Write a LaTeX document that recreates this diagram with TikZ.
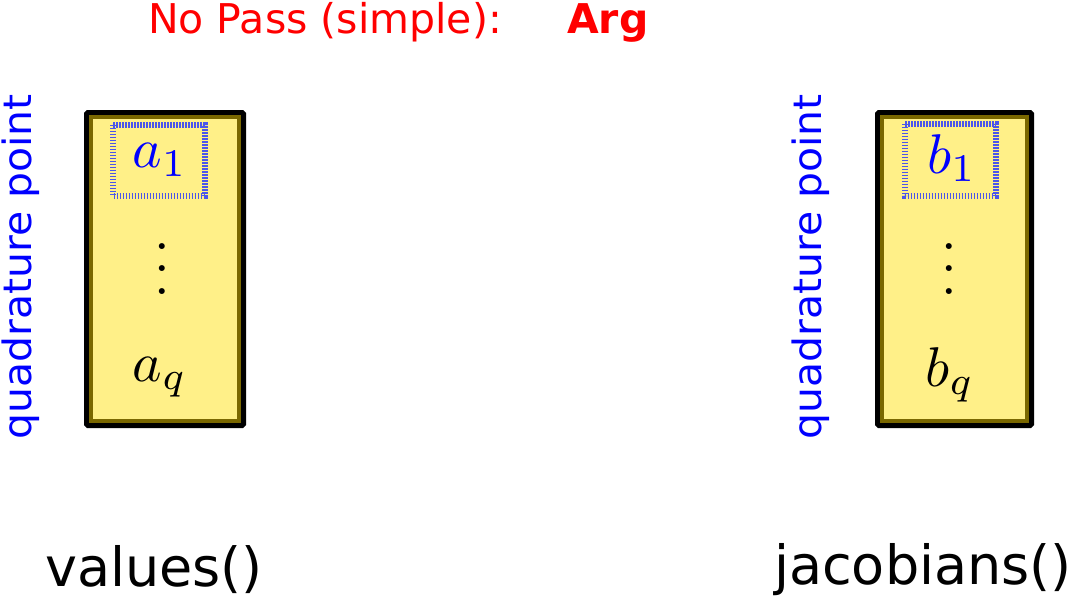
\documentclass[tikz,border=0pt]{standalone}
\usepackage{fontspec}
\newfontfamily\dvs{DejaVu Sans}
\definecolor{boxfill}{RGB}{255,240,136}
\definecolor{boxolive}{RGB}{122,104,0}
\definecolor{dashblue}{RGB}{75,85,235}
\newcommand{\hugemath}[1]{\scalebox{5.6}{$#1$}}
\tikzset{
  outerbox/.style={draw=black, line width=5pt, rounded corners=1.5pt, fill=boxfill},
  innerbox/.style={draw=boxolive, line width=4pt},
  selbox/.style={draw=dashblue, line width=6pt, dash pattern=on 1.7pt off 1.3pt},
  mathlbl/.style={inner sep=0pt},
  dotslbl/.style={inner sep=0pt, text height=0pt, text depth=0pt, anchor=base},
  sidelbl/.style={inner sep=0pt, text=blue, rotate=90, font=\dvs\fontsize{39}{44}\selectfont},
  funlbl/.style={inner sep=0pt, font=\dvs\fontsize{54}{60}\selectfont},
  titlelbl/.style={inner sep=0pt, text=red, anchor=base west, font=\dvs\fontsize{41}{46}\selectfont}
}
\begin{document}
\begin{tikzpicture}[x=1pt,y=-1pt]
\useasboundingbox (0,0) rectangle (1072,598);
% title
\node[titlelbl] (title) at (148,33) {No Pass (simple):};
\node[titlelbl, font=\dvs\bfseries\fontsize{41}{46}\selectfont] (arg) at (567,33) {Arg};
% left box
\draw[outerbox] (86.5,112.5) rectangle (243.5,425.5);
\draw[innerbox] (91,117) rectangle (239,421);
\draw[selbox] (112.5,124.5) rectangle (204.5,195.5);
\node[mathlbl, text=blue] (a1) at (160,160) {\hugemath{a_1}};
\node[dotslbl] (adots) at (162,294) {\smash{\hugemath{\vdots}}};
\node[mathlbl] (aq) at (160,377) {\hugemath{a_q}};
\node[sidelbl] (qpl) at (21,267) {\scalebox{1.05}[1]{quadrature point}};
\node[funlbl] (vals) at (154,570) {values()};
% right box
\draw[outerbox] (877.5,112.5) rectangle (1031.5,425.5);
\draw[innerbox] (882,117) rectangle (1027,421);
\draw[selbox] (904.5,123.5) rectangle (995.5,195.5);
\node[mathlbl, text=blue] (b1) at (952,158) {\hugemath{b_1}};
\node[dotslbl] (bdots) at (949,294) {\smash{\hugemath{\vdots}}};
\node[mathlbl] (bq) at (950,375) {\hugemath{b_q}};
\node[sidelbl] (qpr) at (811,267) {\scalebox{1.05}[1]{quadrature point}};
\node[funlbl] (jac) at (923,570) {jacobians()};
\end{tikzpicture}
\end{document}
